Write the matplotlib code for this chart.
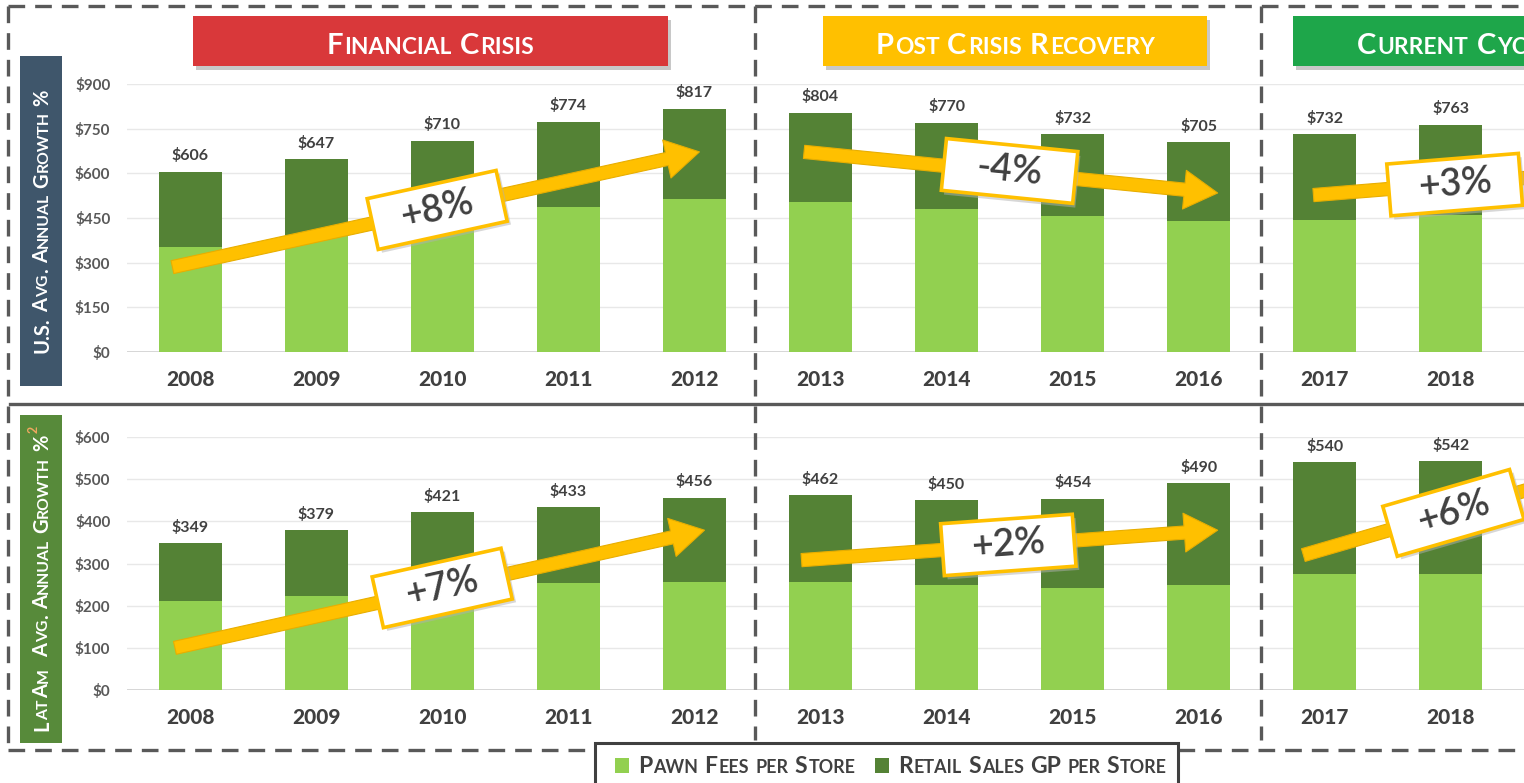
import re
import math
import matplotlib
matplotlib.use('Agg')
import matplotlib.pyplot as plt
import matplotlib.transforms as mtransforms
from matplotlib.patches import Rectangle, FancyArrowPatch, ArrowStyle
from matplotlib.lines import Line2D

plt.rcParams['font.family'] = ['Lato', 'DejaVu Sans']

# dados
anos = ['2008', '2009', '2010', '2011', '2012', '2013', '2014', '2015', '2016', '2017', '2018']
us_total = [606, 647, 710, 774, 817, 804, 770, 732, 705, 732, 763]
us_pawn = [352, 393, 430, 487, 514, 504, 480, 457, 440, 443, 460]
latam_total = [349, 379, 421, 433, 456, 462, 450, 454, 490, 540, 542]
latam_pawn = [210, 224, 235, 253, 257, 257, 248, 241, 250, 276, 276]
us_ticks = [0, 150, 300, 450, 600, 750, 900]
latam_ticks = [0, 100, 200, 300, 400, 500, 600]

# setas: inicio, fim, centro da caixa, texto
us_setas = [((-0.14, 285), (4.04, 672), (1.96, 477), '+8%'),
            ((4.87, 672), (8.15, 534), (6.50, 608), '-4%'),
            ((8.91, 527), (10.9, 595), (10.03, 562), '+3%')]
latam_setas = [((-0.12, 100), (4.08, 379), (2.00, 242), '+7%'),
               ((4.85, 308), (8.15, 379), (6.49, 344), '+2%'),
               ((8.83, 320), (10.9, 500), (10.02, 420), '+6%')]

periodos = [('Financial Crisis', '#D9383A', 193, 668, 'center'),
            ('Post Crisis Recovery', '#FFC000', 823, 1207, 'center'),
            ('Current Cycle', '#1EA64A', 1293, 1700, 'left')]

legenda = [('Pawn Fees per Store', '#92D050', 615, 638),
           ('Retail Sales GP per Store', '#548235', 875, 898)]

CLARO = '#92D050'
ESCURO = '#548235'
CINZA = '#404040'
AMARELO = '#FFC000'

W, H = 1524, 783
fig = plt.figure(figsize=(W / 100, H / 100), dpi=100)
fig.patch.set_facecolor('white')


def fx(px):
    return px / W


def fy(py):
    return 1 - py / H


def caixa(x0, y0, x1, y1, **kw):
    r = Rectangle((fx(x0), fy(y1)), (x1 - x0) / W, (y1 - y0) / H, transform=fig.transFigure, **kw)
    fig.add_artist(r)
    return r


def linha(xs, ys, **kw):
    fig.add_artist(Line2D([fx(v) for v in xs], [fy(v) for v in ys], transform=fig.transFigure, **kw))


def caps_text(x, y, s, size, color, rot=0, ha='center', ratio=0.78, weight='bold', z=8):
    # versaletes: maiusculas grandes, minusculas viram maiusculas menores
    rend = fig.canvas.get_renderer()
    pedacos = []
    for wi, word in enumerate(s.split(' ')):
        for seg in re.findall(r'[a-z]+|[^a-z]+', word):
            fs = size * ratio if seg.islower() else size
            t = fig.text(0, 0, seg.upper(), fontsize=fs, color=color, weight=weight,
                         ha='left', va='baseline', zorder=z)
            w = t.get_window_extent(renderer=rend).width
            pedacos.append((t, w, wi))
    k = 100 / 72
    pos = 0
    prev = None
    offs = []
    for t, w, wi in pedacos:
        if prev is not None:
            pos += size * 0.27 * k * (wi - prev) if wi != prev else size * 0.05 * k
        offs.append(pos)
        pos += w
        prev = wi
    start = -pos / 2 if ha == 'center' else 0
    for (t, w, wi), o in zip(pedacos, offs):
        d = start + o
        if rot == 90:
            t.set_position((fx(x), fy(y - d)))
            t.set_rotation(90)
            t.set_rotation_mode('anchor')
        else:
            t.set_position((fx(x + d), fy(y)))
    return start + pos


def painel(top, bottom, total, pawn, ticks, setas):
    ax = fig.add_axes([fx(127), fy(bottom), (W - 127) / W, (bottom - top) / H])
    x = list(range(len(anos)))
    retail = [t - p for t, p in zip(total, pawn)]
    ax.bar(x, pawn, width=0.5, color=CLARO, zorder=2)
    ax.bar(x, retail, width=0.5, bottom=pawn, color=ESCURO, zorder=2)
    for xi, t in zip(x, total):
        ax.annotate('\\$%d' % t, (xi, t), xytext=(0, 6), textcoords='offset points',
                    ha='center', va='bottom', fontsize=11.5, color=CINZA, weight='bold')
    ax.set_xlim(-0.5, 10.58)
    ax.set_ylim(ticks[0], ticks[-1])
    ax.set_yticks(ticks, ['\\$%d' % v for v in ticks])
    ax.set_xticks(x, anos)
    ax.tick_params(axis='x', length=0, pad=13, labelsize=15, labelcolor=CINZA)
    ax.tick_params(axis='y', length=0, pad=12, labelsize=11, labelcolor='#595959')
    for lb in ax.get_xticklabels():
        lb.set_fontweight('black')
    for lb in ax.get_yticklabels():
        lb.set_fontweight('bold')
    ax.grid(axis='y', color='#E8E8E8', lw=1)
    ax.axhline(0, color='#D0D0D0', lw=1.2, zorder=1)
    ax.set_axisbelow(True)
    for sp in ax.spines.values():
        sp.set_visible(False)

    for ini, fim, centro, rotulo in setas:
        seta = FancyArrowPatch(ini, fim, transform=ax.transData,
                               arrowstyle=ArrowStyle.Simple(head_length=24, head_width=28, tail_width=9.5),
                               mutation_scale=1, shrinkA=0, shrinkB=0,
                               fc=AMARELO, ec='#E8AE00', lw=0.8, zorder=5)
        fig.add_artist(seta)
        p0 = ax.transData.transform(ini)
        p1 = ax.transData.transform(fim)
        ang = math.degrees(math.atan2(p1[1] - p0[1], p1[0] - p0[0]))
        bw, bh = 132, 52
        sombra = Rectangle((-bw / 2 + 3, -bh / 2 - 4), bw, bh, fc='#B0B0B0', ec='none', alpha=0.5,
                           transform=mtransforms.Affine2D().rotate_deg(ang)
                           + mtransforms.ScaledTranslation(centro[0], centro[1], ax.transData), zorder=5.5)
        fig.add_artist(sombra)
        rect = Rectangle((-bw / 2, -bh / 2), bw, bh, fc='white', ec=AMARELO, lw=2.6,
                         transform=mtransforms.Affine2D().rotate_deg(ang)
                         + mtransforms.ScaledTranslation(centro[0], centro[1], ax.transData), zorder=6)
        fig.add_artist(rect)
        fig.text(centro[0], centro[1], rotulo, transform=ax.transData, rotation=ang,
                 rotation_mode='anchor', ha='center', va='center', fontsize=27,
                 weight='semibold', color=CINZA, zorder=7)
    return ax


ax_us = painel(84, 352, us_total, us_pawn, us_ticks, us_setas)
ax_la = painel(437, 690, latam_total, latam_pawn, latam_ticks, latam_setas)

# molduras tracejadas
tracejado = dict(color='#595959', lw=2.4, ls=(0, (5, 3)), solid_capstyle='butt')
linha([8, W], [6, 6], **tracejado)
linha([8, 8], [6, 750], **tracejado)
linha([8, 595], [750, 750], **tracejado)
linha([1178, W], [750, 750], **tracejado)
linha([755, 755], [6, 740], **tracejado)
linha([1261, 1261], [6, 740], **tracejado)
linha([10, W], [404, 404], color='#595959', lw=2.4)

# faixas dos periodos
for nome, cor, x0, x1, al in periodos:
    caixa(x0 + 3, 20, x1 + 3, 70, fc='#C8C8C8', ec='none', zorder=1)
    caixa(x0, 16, x1, 66, fc=cor, ec='none', zorder=2)
    if al == 'center':
        caps_text((x0 + x1) / 2, 54, nome, 21, 'white')
    else:
        caps_text(1357, 54, nome, 21, 'white', ha='left')

# rotulos verticais
caixa(20, 56, 62, 386, fc='#3F566B', ec='none', zorder=2)
caixa(20, 415, 62, 743, fc='#578A3A', ec='none', zorder=2)
caps_text(48, 221, 'U.S. Avg. Annual Growth %', 14.5, 'white', rot=90)
fim = caps_text(48, 583, 'LatAm  Avg. Annual Growth %', 14.5, 'white', rot=90)
fig.text(fx(38), fy(583 - fim - 2), '2', fontsize=9, color='#F0A860', weight='bold',
         rotation=90, rotation_mode='anchor', ha='left', va='baseline', zorder=8)

# legenda
caixa(595, 743, 1178, 800, fc='white', ec='#404040', lw=2.2, zorder=3)
for nome, cor, xq, xt in legenda:
    caixa(xq, 758, xq + 14, 773, fc=cor, ec='none', zorder=4)
    caps_text(xt, 773, nome, 16.5, CINZA, ha='left')

fig.savefig('out.png', dpi=100, facecolor='white')
